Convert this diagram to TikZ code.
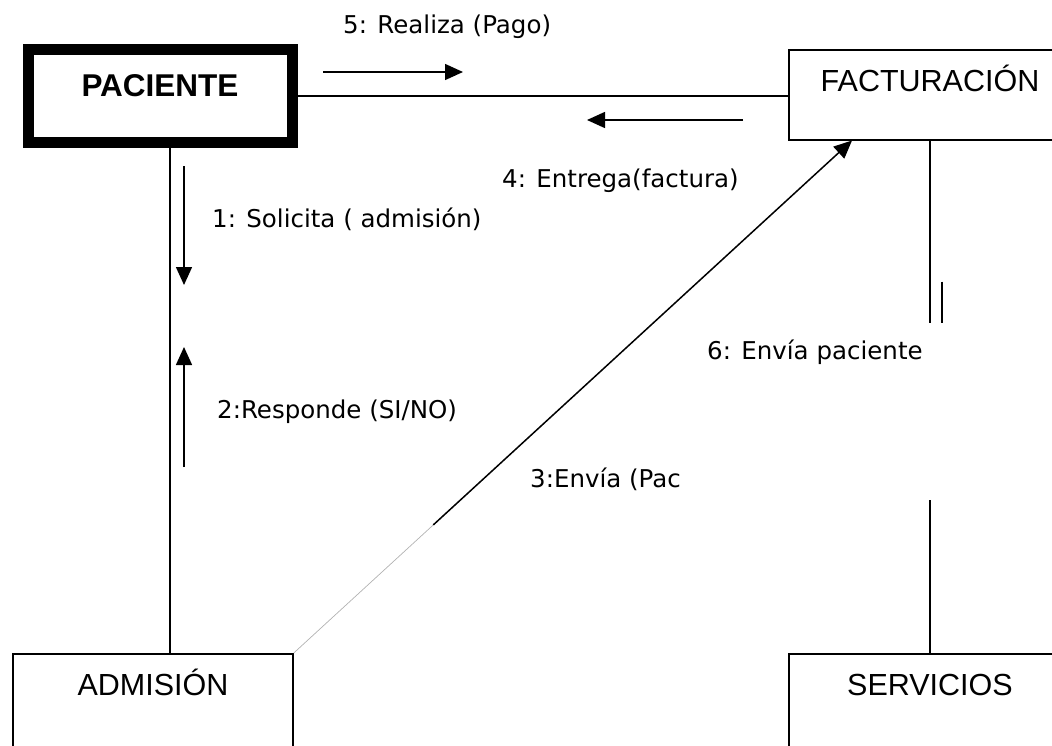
\documentclass[tikz,border=0pt]{standalone}
\usepackage{fontspec}
\setmainfont{Liberation Sans}
\newfontfamily\msgfont{DejaVu Sans}
\usetikzlibrary{arrows.meta,calc,positioning}

\begin{document}
\begin{tikzpicture}[
  x=1pt, y=-1pt,
  obj/.style={draw, rectangle, line width=1.5pt, minimum width=282pt, inner sep=0pt,
    text height=42pt, text depth=48pt, anchor=north, font=\fontsize{30.5}{32}\selectfont},
  actor/.style={obj, line width=11pt, minimum width=264pt, text height=47pt, text depth=46pt,
    font=\fontsize{31.5}{33}\selectfont\bfseries},
  msg/.style={-{Triangle[length=18pt,width=16pt]}, line width=1.5pt},
  lbl/.style={anchor=base west, inner sep=0pt, font=\msgfont\fontsize{24.5}{26}\selectfont}
]
\useasboundingbox (0,0) rectangle (1052,745);
\clip (0,0) rectangle (1052,745);

% objetos
\node[actor] (paciente) at (160,44) {PACIENTE};
\node[obj] (facturacion) at (930,49) {FACTURACIÓN};
\node[obj, minimum width=280pt, text depth=70pt] (admision) at (153,653) {ADMISIÓN};
\node[obj, text depth=70pt] (servicios) at (930,653) {SERVICIOS};

% enlaces
\draw[line width=1.5pt] (paciente.east) -- (paciente.east -| facturacion.west);
\draw[line width=1.5pt] ([xshift=10pt]paciente.south) -- ([xshift=17pt]admision.north);
\draw[line width=1.5pt] (facturacion.south) -- ++(0,182);
\draw[line width=1.5pt] ([xshift=12pt]facturacion.south) ++(0,141) -- ++(0,41);
\draw[line width=1.5pt] (servicios.north) -- ++(0,-153);
\draw[gray!60, line width=0.7pt] (admision.north east) -- ($(admision.north east)!0.3!([xshift=-78pt]facturacion.south)$);
\draw[msg] ($(admision.north east)!0.25!([xshift=-78pt]facturacion.south)$) -- ([xshift=-78pt]facturacion.south);

% mensajes
\coordinate (m5a) at (323,72);
\coordinate (m5b) at (463,72);
\coordinate (m4a) at (743,120);
\coordinate (m4b) at (587,120);
\coordinate (m1a) at (184,166);
\coordinate (m1b) at (184,285);
\coordinate (m2a) at (184,467);
\coordinate (m2b) at (184,347);
\draw[msg] (m5a) -- (m5b);
\draw[msg] (m4a) -- (m4b);
\draw[msg] (m1a) -- (m1b);
\draw[msg] (m2a) -- (m2b);

\node[lbl] (l5) at (343,33) {5: Realiza (Pago)};
\node[lbl] (l4) at (502,187) {4: Entrega(factura)};
\node[lbl] (l1) at (212,227) {1: Solicita ( admisión)};
\node[lbl] (l2) at (217,418) {2:Responde (SI/NO)};
\node[lbl] (l3) at (530,487) {3:Envía (Pac};
\node[lbl] (l6) at (707,359) {6: Envía paciente};
\end{tikzpicture}
\end{document}
